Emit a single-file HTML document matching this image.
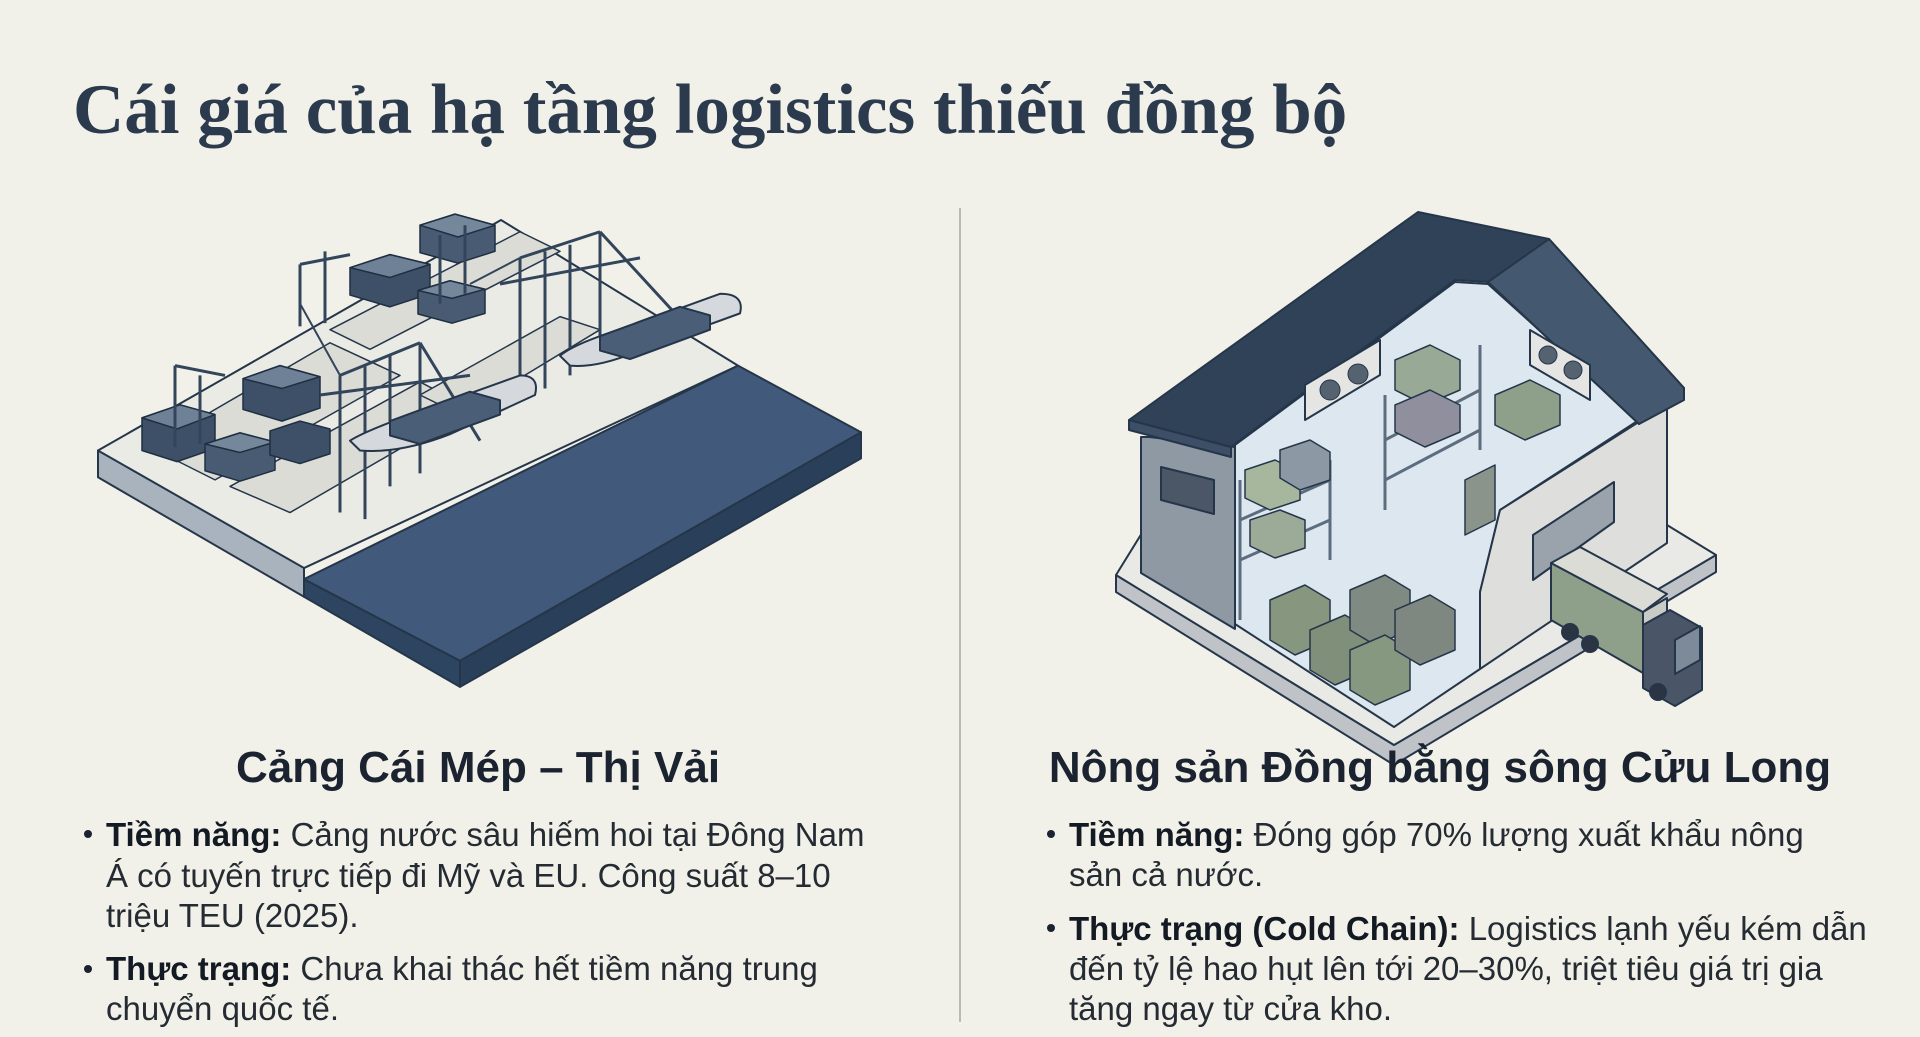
<!DOCTYPE html>
<html><head><meta charset="utf-8"><style>
html,body{margin:0;padding:0}
body{width:1920px;height:1037px;background:#f2f1e9;position:relative;overflow:hidden;font-family:"Liberation Sans",sans-serif;color:#1b2330}
.t{position:absolute;left:73px;top:75px;font-family:"Liberation Serif",serif;font-weight:bold;font-size:71px;line-height:71px;color:#2b3a4d;white-space:nowrap}
.h{position:absolute;font-weight:bold;font-size:44px;line-height:50px;top:743px;white-space:nowrap;color:#1b2330;text-align:center}
.l{position:absolute;font-size:33px;line-height:41px;white-space:nowrap;color:#252b33}
.l b{color:#141a24}
.d{position:absolute;width:8px;height:8px;border-radius:50%;background:#1b2330}
svg *{vector-effect:non-scaling-stroke}
</style></head><body>
<svg width="1920" height="1037" style="position:absolute;left:0;top:0" stroke-linejoin="round">
<line x1="960" y1="208" x2="960" y2="1022" stroke="#b9bab4" stroke-width="2"/>
<!-- PORT -->
<g transform="matrix(1,0,0,0.653,0,68.5)">
<g stroke="#26364a" stroke-width="2">
<polygon points="98,585 304,760 304,809 98,626" fill="#a9b3be"/>
<polygon points="304,782 460,907 460,947 304,809" fill="#2d4560"/>
<polygon points="460,907 861,557 861,597 460,947" fill="#2a405a"/>
<polygon points="98,585 501,232 738,455 304,765" fill="#ebebe6"/>
<polygon points="304,782 738,455 861,557 460,907" fill="#41597a"/>
<polygon points="150,580 330,420 400,470 215,630" fill="#dcdcd6" stroke-width="1.5"/>
<polygon points="230,640 420,480 470,520 290,680" fill="#dcdcd6" stroke-width="1.5"/>
<polygon points="330,400 520,250 560,280 370,430" fill="#dcdcd6" stroke-width="1.5"/>
<polygon points="420,500 560,380 600,400 460,530" fill="#dcdcd6" stroke-width="1.5"/>
</g>
<g stroke="#1f2f42" stroke-width="1.5">
<polygon points="142,535 180,515 215,530 215,582 177,602 142,585" fill="#3d5068"/>
<polygon points="142,535 180,515 215,530 177,552" fill="#6f8196"/>
<polygon points="243,475 280,455 320,472 320,520 282,540 243,522" fill="#3d5068"/>
<polygon points="243,475 280,455 320,472 282,490" fill="#6f8196"/>
<polygon points="205,575 240,558 275,572 275,615 240,632 205,616" fill="#485b73"/>
<polygon points="205,575 240,558 275,572 240,588" fill="#75879b"/>
<polygon points="350,305 390,285 430,300 430,345 390,365 350,347" fill="#3d5068"/>
<polygon points="350,305 390,285 430,300 390,320" fill="#6f8196"/>
<polygon points="420,240 455,223 495,240 495,280 458,298 420,282" fill="#485b73"/>
<polygon points="420,240 455,223 495,240 458,258" fill="#75879b"/>
<polygon points="418,340 450,325 485,338 485,375 452,390 418,376" fill="#485b73"/>
<polygon points="418,340 450,325 485,338 452,352" fill="#75879b"/>
<polygon points="270,555 300,540 330,552 330,590 300,605 270,592" fill="#3d5068"/>
</g>
<g stroke="#33455b" stroke-width="3" fill="none">
<path d="M175,455 V580 M200,470 V575 M175,455 L225,470 M300,300 V395 M325,280 V390 M300,300 L350,285 M440,255 V360 M465,240 V345"/>
<path d="M340,470 V680 M365,455 V690 M390,440 V640 M420,420 V620 M340,470 L420,420 M320,500 L470,470 M420,420 L480,570"/>
<path d="M520,290 V500 M545,280 V490 M570,270 V470 M600,250 V440 M520,290 L600,250 M500,330 L640,290 M600,250 L690,400"/>
<path d="M300,360 L340,470 M470,330 L520,290" stroke-width="2"/>
</g>
<g stroke="#26364a" stroke-width="2">
<path d="M350,570 Q365,555 420,525 L520,470 Q540,470 535,500 L450,560 Q400,590 360,585 Z" fill="#d5d8dc"/>
<path d="M560,440 Q575,420 630,395 L720,345 Q745,345 740,375 L650,425 Q600,460 570,455 Z" fill="#d5d8dc"/>
<polygon points="390,540 470,495 500,508 500,530 420,575 390,562" fill="#4a5e77"/>
<polygon points="600,410 680,365 710,378 710,400 630,445 600,432" fill="#4a5e77"/>
</g>
</g>
<!-- WAREHOUSE -->
<g stroke="#26364a" stroke-width="2">
<polygon points="1116,575 1394,745 1716,555 1716,572 1394,765 1116,592" fill="#bfc3c7"/>
<polygon points="1116,575 1394,745 1716,555 1667,525 1400,360 1150,520" fill="#e9e9e5"/>
<polygon points="1149,437 1235,447 1235,629 1141,573 1141,437" fill="#8f99a4"/>
<polygon points="1161,467 1214,480 1214,514 1161,500" fill="#4b5767"/>
<polygon points="1235,445 1455,282 1488,284 1639,420 1500,510 1480,592 1480,669 1394,727 1235,624" fill="#dce7ef"/>
<polygon points="1500,510 1667,404 1667,543 1480,669 1480,592" fill="#dedfdd"/>
<polygon points="1533,535 1614,482 1614,522 1533,580" fill="#9aa3ab"/>
<polygon points="1129,420 1418,212 1549,239 1684,388 1639,424 1488,282 1455,280 1231,447" fill="#2f4258"/>
<polygon points="1129,420 1231,447 1231,457 1129,430" fill="#3c4f66"/>
<polygon points="1549,239 1684,388 1684,400 1639,424 1488,282" fill="#44586f"/>
<polygon points="1305,385 1380,340 1380,375 1305,420" fill="#e5e6e4"/>
<polygon points="1530,330 1590,365 1590,400 1530,365" fill="#e5e6e4"/>
</g>
<g fill="#55626f" stroke="#26364a" stroke-width="1">
<circle cx="1330" cy="390" r="10"/><circle cx="1358" cy="374" r="10"/>
<circle cx="1548" cy="355" r="9"/><circle cx="1573" cy="370" r="9"/>
</g>
<g stroke="#5c6d7f" stroke-width="3" fill="none">
<path d="M1240,480 V620 M1330,460 V560 M1385,395 V510 M1480,345 V450 M1240,520 L1330,480 M1240,560 L1330,520 M1385,440 L1480,390 M1385,480 L1480,430"/>
</g>
<g stroke="#26364a" stroke-width="1.5">
<polygon points="1245,470 1275,460 1300,472 1300,500 1270,510 1245,498" fill="#a6b79e"/>
<polygon points="1280,450 1310,440 1330,452 1330,480 1300,490 1280,478" fill="#8d98a5"/>
<polygon points="1250,520 1280,510 1305,520 1305,548 1275,558 1250,546" fill="#9caa98"/>
<polygon points="1395,360 1430,345 1460,360 1460,390 1425,405 1395,390" fill="#98aa95"/>
<polygon points="1395,405 1430,390 1460,405 1460,432 1425,447 1395,432" fill="#8f8f9e"/>
<polygon points="1495,395 1530,380 1560,395 1560,425 1525,440 1495,425" fill="#8fa08a"/>
<polygon points="1270,600 1305,585 1330,600 1330,640 1295,655 1270,640" fill="#87977f"/>
<polygon points="1310,630 1345,615 1370,630 1370,670 1335,685 1310,670" fill="#7f8f7a"/>
<polygon points="1350,590 1385,575 1410,590 1410,630 1375,645 1350,630" fill="#7f8a82"/>
<polygon points="1350,650 1385,635 1410,650 1410,690 1375,705 1350,690" fill="#879880"/>
<polygon points="1395,610 1430,595 1455,610 1455,650 1420,665 1395,650" fill="#7e8880"/>
<polygon points="1465,480 1495,465 1495,520 1465,535" fill="#8a948a"/>
</g>
<g stroke="#26364a" stroke-width="2">
<polygon points="1551,563 1551,620 1643,673 1643,612" fill="#8e9f8a"/>
<polygon points="1551,563 1580,547 1667,594 1643,612" fill="#dadcd5"/>
<polygon points="1643,612 1667,598 1667,655 1643,673" fill="#c9ccc6"/>
<polygon points="1643,625 1670,610 1702,628 1702,690 1675,706 1643,688" fill="#4a5668"/>
<polygon points="1675,640 1700,626 1700,660 1675,674" fill="#7d8a99"/>
<circle cx="1570" cy="632" r="8" fill="#2a3442"/><circle cx="1590" cy="644" r="8" fill="#2a3442"/><circle cx="1658" cy="692" r="8" fill="#2a3442"/>
</g>
</svg>
<div class="t">Cái giá của hạ tầng logistics thiếu đồng bộ</div>
<div class="h" style="left:233px;width:490px">Cảng Cái Mép – Thị Vải</div>
<div class="h" style="left:1047px;width:786px">Nông sản Đồng bằng sông Cửu Long</div>
<div class="d" style="left:84px;top:830px"></div>
<div class="l" style="left:106px;top:814px"><b>Tiềm năng:</b> Cảng nước sâu hiếm hoi tại Đông Nam</div>
<div class="l" style="left:106px;top:855px">Á có tuyến trực tiếp đi Mỹ và EU. Công suất 8–10</div>
<div class="l" style="left:106px;top:895px">triệu TEU (2025).</div>
<div class="d" style="left:84px;top:965px"></div>
<div class="l" style="left:106px;top:948px"><b>Thực trạng:</b> Chưa khai thác hết tiềm năng trung</div>
<div class="l" style="left:106px;top:988px">chuyển quốc tế.</div>
<div class="d" style="left:1047px;top:830px"></div>
<div class="l" style="left:1069px;top:814px"><b>Tiềm năng:</b> Đóng góp 70% lượng xuất khẩu nông</div>
<div class="l" style="left:1069px;top:854px">sản cả nước.</div>
<div class="d" style="left:1047px;top:924px"></div>
<div class="l" style="left:1069px;top:908px"><b>Thực trạng (Cold Chain):</b> Logistics lạnh yếu kém dẫn</div>
<div class="l" style="left:1069px;top:948px">đến tỷ lệ hao hụt lên tới 20–30%, triệt tiêu giá trị gia</div>
<div class="l" style="left:1069px;top:988px">tăng ngay từ cửa kho.</div>
</body></html>
